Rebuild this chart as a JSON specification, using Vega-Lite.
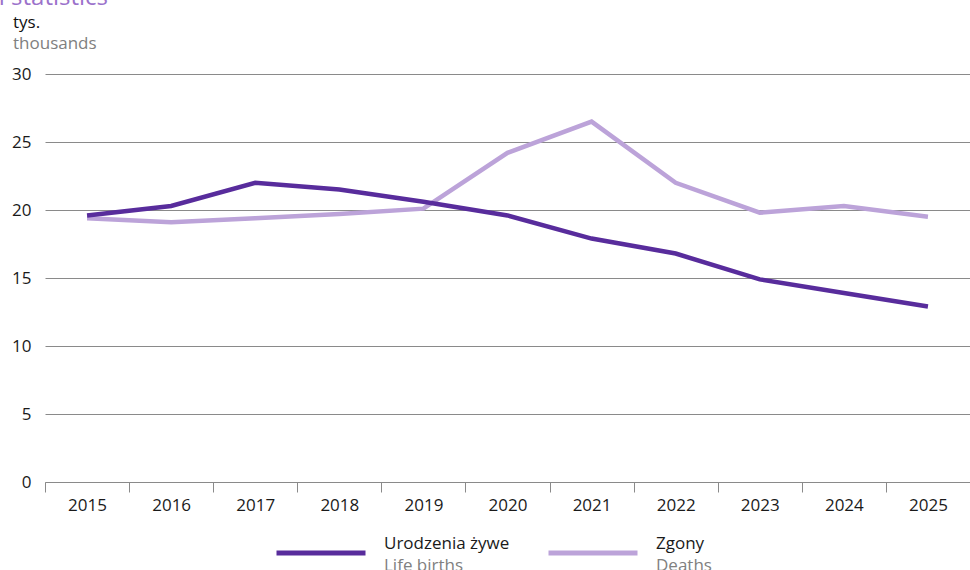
{
  "$schema": "https://vega.github.io/schema/vega-lite/v6.json",
  "width": 925,
  "height": 408,
  "autosize": {"type": "none"},
  "padding": {"left": 45, "top": 74, "right": 0, "bottom": 88},
  "background": "white",
  "config": {
    "font": "Open Sans",
    "view": {"stroke": null}
  },
  "title": {
    "text": "tys.",
    "subtitle": "thousands",
    "anchor": "start",
    "frame": "group",
    "font": "Open Sans",
    "fontSize": 17,
    "fontWeight": "normal",
    "color": "#111111",
    "subtitleFont": "Open Sans",
    "subtitleFontSize": 17,
    "subtitleColor": "#808080",
    "subtitlePadding": 4,
    "dx": -32,
    "dy": 76,
    "offset": 8
  },
  "data": {
    "values": [
      {"year": "2015", "value": 19.4, "series": "Zgony", "series_en": "Deaths"},
      {"year": "2016", "value": 19.1, "series": "Zgony", "series_en": "Deaths"},
      {"year": "2017", "value": 19.4, "series": "Zgony", "series_en": "Deaths"},
      {"year": "2018", "value": 19.7, "series": "Zgony", "series_en": "Deaths"},
      {"year": "2019", "value": 20.1, "series": "Zgony", "series_en": "Deaths"},
      {"year": "2020", "value": 24.2, "series": "Zgony", "series_en": "Deaths"},
      {"year": "2021", "value": 26.5, "series": "Zgony", "series_en": "Deaths"},
      {"year": "2022", "value": 22.0, "series": "Zgony", "series_en": "Deaths"},
      {"year": "2023", "value": 19.8, "series": "Zgony", "series_en": "Deaths"},
      {"year": "2024", "value": 20.3, "series": "Zgony", "series_en": "Deaths"},
      {"year": "2025", "value": 19.5, "series": "Zgony", "series_en": "Deaths"},
      {"year": "2015", "value": 19.6, "series": "Urodzenia żywe", "series_en": "Life births"},
      {"year": "2016", "value": 20.3, "series": "Urodzenia żywe", "series_en": "Life births"},
      {"year": "2017", "value": 22.0, "series": "Urodzenia żywe", "series_en": "Life births"},
      {"year": "2018", "value": 21.5, "series": "Urodzenia żywe", "series_en": "Life births"},
      {"year": "2019", "value": 20.6, "series": "Urodzenia żywe", "series_en": "Life births"},
      {"year": "2020", "value": 19.6, "series": "Urodzenia żywe", "series_en": "Life births"},
      {"year": "2021", "value": 17.9, "series": "Urodzenia żywe", "series_en": "Life births"},
      {"year": "2022", "value": 16.8, "series": "Urodzenia żywe", "series_en": "Life births"},
      {"year": "2023", "value": 14.9, "series": "Urodzenia żywe", "series_en": "Life births"},
      {"year": "2024", "value": 13.9, "series": "Urodzenia żywe", "series_en": "Life births"},
      {"year": "2025", "value": 12.9, "series": "Urodzenia żywe", "series_en": "Life births"}
    ]
  },
  "mark": {"type": "line", "strokeWidth": 4.5, "strokeJoin": "miter", "strokeCap": "butt"},
  "encoding": {
    "x": {
      "field": "year",
      "type": "ordinal",
      "bandPosition": 0.5,
      "scale": {"type": "band", "paddingInner": 0, "paddingOuter": 0},
      "axis": {
        "title": null,
        "labelAngle": 0,
        "labelFont": "Open Sans",
        "labelFontSize": 17,
        "labelColor": "#1a1a1a",
        "labelPadding": 5,
        "tickBand": "extent",
        "tickSize": 10,
        "tickColor": "#8a8a8a",
        "tickWidth": 1,
        "domainColor": "#8a8a8a",
        "domainWidth": 1,
        "grid": false
      }
    },
    "y": {
      "field": "value",
      "type": "quantitative",
      "scale": {"domain": [0, 30], "nice": false},
      "axis": {
        "title": "Vital statistics",
        "titleAngle": 0,
        "titleAlign": "left",
        "titleBaseline": "alphabetic",
        "titleX": -89,
        "titleY": -70,
        "titleFont": "Open Sans",
        "titleFontSize": 24,
        "titleFontWeight": "normal",
        "titleColor": "#9b72cb",
        "values": [0, 5, 10, 15, 20, 25, 30],
        "domain": false,
        "ticks": false,
        "grid": true,
        "gridColor": "#8a8a8a",
        "gridWidth": 1,
        "labelFont": "Open Sans",
        "labelFontSize": 17,
        "labelColor": "#1a1a1a",
        "labelPadding": 14
      }
    },
    "color": {
      "field": "series",
      "type": "nominal",
      "scale": {"domain": ["Urodzenia żywe", "Zgony"], "range": ["#582c9c", "#bca3d9"]},
      "legend": {
        "title": null,
        "orient": "none",
        "direction": "horizontal",
        "legendX": 229,
        "legendY": 432,
        "symbolType": "stroke",
        "symbolSize": 7921,
        "symbolStrokeWidth": 5,
        "labelFont": "Open Sans",
        "labelFontSize": 17,
        "labelColor": "#1a1a1a",
        "labelBaseline": "bottom",
        "labelOffset": 16,
        "labelLimit": 400,
        "gridAlign": "all",
        "columnPadding": 28
      }
    },
    "strokeWidth": {
      "field": "series_en",
      "type": "nominal",
      "scale": {"domain": ["Life births", "Deaths"], "range": [4.5, 4.5]},
      "legend": {
        "title": null,
        "orient": "none",
        "direction": "horizontal",
        "legendX": 229,
        "legendY": 454,
        "symbolType": "stroke",
        "symbolSize": 7921,
        "symbolOpacity": 0,
        "symbolStrokeWidth": 0,
        "labelFont": "Open Sans",
        "labelFontSize": 17,
        "labelColor": "#808080",
        "labelBaseline": "bottom",
        "labelOffset": 16,
        "labelLimit": 400,
        "gridAlign": "all",
        "columnPadding": 82
      }
    }
  }
}
